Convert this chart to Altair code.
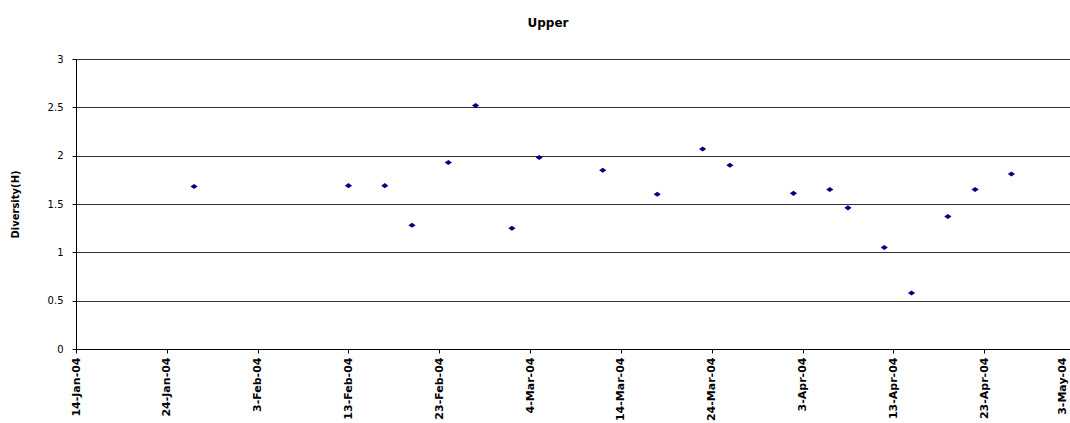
import altair as alt
import pandas as pd

# Sample dates and Shannon diversity values (Upper site)
dates = ["2004-01-27", "2004-02-13", "2004-02-17", "2004-02-20", "2004-02-24",
         "2004-02-27", "2004-03-02", "2004-03-05", "2004-03-12", "2004-03-18",
         "2004-03-23", "2004-03-26", "2004-04-02", "2004-04-06", "2004-04-08",
         "2004-04-12", "2004-04-15", "2004-04-19", "2004-04-22", "2004-04-26"]
diversity = [1.68, 1.69, 1.69, 1.28, 1.93, 2.52, 1.25, 1.98, 1.85, 1.60,
             2.07, 1.90, 1.61, 1.65, 1.46, 1.05, 0.58, 1.37, 1.65, 1.81]

x_tick_labels = ["14-Jan-04", "24-Jan-04", "3-Feb-04", "13-Feb-04", "23-Feb-04",
                 "4-Mar-04", "14-Mar-04", "24-Mar-04", "3-Apr-04", "13-Apr-04",
                 "23-Apr-04", "3-May-04"]
y_ticks = [0, 0.5, 1, 1.5, 2, 2.5, 3]

origin = pd.Timestamp("2004-01-14")
tick_days = [int((pd.to_datetime(t, format="%d-%b-%y") - origin).days) for t in x_tick_labels]
last_tick = tick_days[-1]

df = pd.DataFrame({
    "date": dates,
    "day": [(pd.Timestamp(d) - origin).days for d in dates],
    "H": diversity,
})

label_expr = "[" + ",".join("'" + t + "'" for t in x_tick_labels) + "][round(datum.value / 10)]"

FONT = "DejaVu Sans"

chart = alt.Chart(df).mark_point(
    shape="M-1,0L0,-0.7L1,0L0,0.7Z",
    filled=True,
    size=52,
    color="#000080",
    opacity=1,
).encode(
    x=alt.X("day:Q",
            scale=alt.Scale(domain=[0, last_tick], range=[0, 999], nice=False, zero=False),
            axis=alt.Axis(values=tick_days, labelExpr=label_expr, title=None,
                          grid=False, labelAngle=270, labelAlign="right",
                          labelBaseline="middle", labelFont=FONT, labelFontSize=11,
                          labelFontWeight="bold", labelColor="black", labelPadding=4,
                          labelOffset={"expr": f"datum.value == {last_tick} ? -13 : 0"},
                          tickSize=4, tickColor="black", domainColor="black",
                          labelOverlap=False, labelBound=False, labelFlush=False)),
    y=alt.Y("H:Q",
            scale=alt.Scale(domain=[0, 3], nice=False),
            axis=alt.Axis(values=y_ticks, format=".1~f", title="Diversity(H)",
                          grid=True, gridColor="#333", gridWidth=1,
                          labelFont=FONT, labelFontSize=10, labelColor="black",
                          labelPadding=9, tickSize=4, tickColor="black",
                          domainColor="black",
                          titleFont=FONT, titleFontSize=10, titleFontWeight="bold",
                          titleColor="black", titleAngle=270, titleX=-61, titleY=145,
                          titleAlign="center", titleBaseline="middle")),
    tooltip=["date:N", "H:Q"],
).properties(
    width=994,
    height=290,
    title=alt.TitleParams("Upper", font=FONT, fontSize=12, fontWeight="bold",
                          color="black", anchor="middle", dx=-25, offset=12,
                          baseline="bottom"),
    autosize=alt.AutoSizeParams(type="none"),
    padding={"left": 76, "top": 59, "right": 0, "bottom": 74},
).configure_view(
    stroke=None
).configure(
    background="white"
)

chart.save("out.html", embed_options={"renderer": "svg", "actions": False})
